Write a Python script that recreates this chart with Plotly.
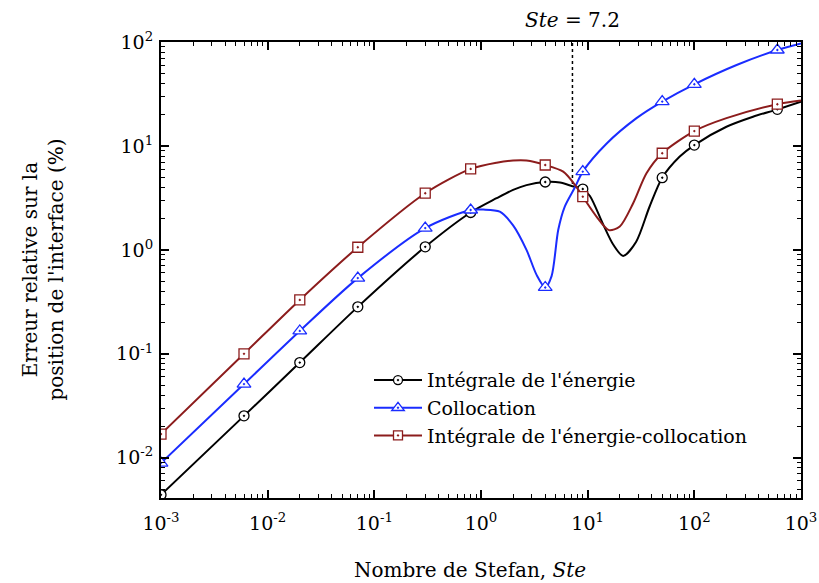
import math
import plotly.graph_objects as go

# Relative error on the interface position versus the Stefan number
ste_energy = [0.001, 0.006, 0.02, 0.07, 0.3, 0.8, 1.4, 2.0, 2.67, 4.0, 5.5, 7.2, 9.0,
              10.5, 14.0, 17.4, 21.5, 28.5, 38.0, 50.0, 73.0, 100.0, 200.0, 355.0, 600.0, 1000.0]
err_energy = [0.0044, 0.0253, 0.0824, 0.283, 1.07, 2.29, 3.14, 3.78, 4.2, 4.5, 4.45, 4.1, 3.85,
              3.3, 1.75, 1.12, 0.875, 1.2, 2.6, 4.95, 7.9, 10.2, 15.3, 19.1, 22.5, 26.7]

ste_colloc = [0.001, 0.006, 0.02, 0.07, 0.3, 0.8, 1.05, 1.5, 2.0, 2.67, 3.32, 4.0, 4.59,
              5.3, 6.1, 7.6, 9.0, 15.0, 28.7, 50.0, 100.0, 249.0, 600.0, 1000.0]
err_colloc = [0.0089, 0.0512, 0.166, 0.535, 1.62, 2.42, 2.44, 2.33, 1.72, 1.0, 0.575, 0.435, 0.56,
              1.56, 2.61, 4.0, 5.66, 10.5, 18.5, 26.7, 39.2, 60.1, 83.8, 97.0]

ste_mixed = [0.001, 0.006, 0.02, 0.07, 0.3, 0.8, 1.4, 2.0, 2.67, 4.0, 5.9, 7.6, 9.0,
             12.1, 15.8, 20.0, 26.7, 35.6, 50.0, 100.0, 200.0, 600.0, 1000.0]
err_mixed = [0.0169, 0.1, 0.33, 1.06, 3.51, 6.01, 6.9, 7.23, 7.23, 6.56, 5.66, 4.22, 3.25,
             2.09, 1.55, 1.68, 2.81, 5.46, 8.51, 13.9, 18.5, 25.2, 27.3]

# Stefan numbers carrying a marker on each curve
ste_marks_energy = [0.001, 0.006, 0.02, 0.07, 0.3, 0.8, 4.0, 9.0, 50.0, 100.0, 600.0]
ste_marks_colloc = [0.001, 0.006, 0.02, 0.07, 0.3, 0.8, 4.0, 9.0, 50.0, 100.0, 600.0]
ste_marks_mixed = [0.001, 0.006, 0.02, 0.07, 0.3, 0.8, 4.0, 9.0, 50.0, 100.0, 600.0]

ste_limit = 7.2
limit_err_span = [4.3, 100.0]

tick_vals = [1e-3, 1e-2, 1e-1, 1e0, 1e1, 1e2, 1e3]
x_tick_text = ["10<sup>-3</sup>", "10<sup>-2</sup>", "10<sup>-1</sup>", "10<sup>0</sup>",
               "10<sup>1</sup>", "10<sup>2</sup>", "10<sup>3</sup>"]
y_tick_vals = [1e-2, 1e-1, 1e0, 1e1, 1e2]
y_tick_text = ["10<sup>-2</sup>", "10<sup>-1</sup>", "10<sup>0</sup>", "10<sup>1</sup>", "10<sup>2</sup>"]

series = [
    ("Intégrale de l'énergie", ste_energy, err_energy, ste_marks_energy, "#000000", "circle-dot", 10),
    ("Collocation", ste_colloc, err_colloc, ste_marks_colloc, "#1a2cff", "triangle-up-dot", 12),
    ("Intégrale de l'énergie-collocation", ste_mixed, err_mixed, ste_marks_mixed, "#8c1c1c", "square-dot", 10),
]

FONT = "DejaVu Serif"

fig = go.Figure()

# vertical marker of the limit Stefan number
fig.add_trace(go.Scatter(x=[ste_limit, ste_limit], y=limit_err_span, mode="lines",
                         line=dict(color="black", width=1.5, dash="dot"),
                         showlegend=False, hoverinfo="skip"))

for name, xs, ys, marks, color, symbol, size in series:
    fig.add_trace(go.Scatter(x=xs, y=ys, mode="lines", line=dict(color=color, width=2, shape="spline", smoothing=0.8),
                             showlegend=False, legendgroup=name))
    mark_y = [ys[xs.index(m)] for m in marks]
    fig.add_trace(go.Scatter(x=marks, y=mark_y, mode="markers",
                             marker=dict(symbol=symbol, size=size, color="white",
                                         line=dict(color=color, width=1.3)),
                             showlegend=False, legendgroup=name))
    fig.add_trace(go.Scatter(x=[None], y=[None], mode="lines+markers", name=name,
                             line=dict(color=color, width=2),
                             marker=dict(symbol=symbol, size=size - 1, color="white",
                                         line=dict(color=color, width=1.3)),
                             legendgroup=name))

axis_common = dict(type="log", showgrid=False, zeroline=False, showline=True, linecolor="black",
                   linewidth=2, mirror="allticks", ticks="inside", ticklen=8, tickwidth=1.5,
                   tickcolor="black", tickfont=dict(family=FONT, size=19, color="black"),
                   automargin=False,
                   minor=dict(ticks="inside", ticklen=4, tickwidth=1, tickcolor="black",
                              dtick="D1", showgrid=False))

fig.update_xaxes(range=[-3, 3], tickvals=tick_vals, ticktext=x_tick_text, ticklabelstandoff=7, **axis_common)
fig.update_yaxes(range=[-2.387, 2], tickvals=y_tick_vals, ticktext=y_tick_text, ticklabelstandoff=2, **axis_common)

fig.update_layout(
    width=819, height=583,
    margin=dict(l=161, r=18, t=42, b=85, autoexpand=False),
    paper_bgcolor="white", plot_bgcolor="white",
    font=dict(family=FONT, color="black"),
    legend=dict(x=0.325, y=0.30, xanchor="left", yanchor="top", bgcolor="rgba(0,0,0,0)",
                font=dict(family=FONT, size=19, color="black"), itemwidth=48,
                tracegroupgap=0),
    annotations=[
        dict(text="<i>Ste</i> = 7.2", x=math.log10(ste_limit), xref="x", y=1.0, yref="paper", yshift=22,
             showarrow=False, font=dict(family=FONT, size=20, color="black"), yanchor="middle"),
        dict(text="Nombre de Stefan, <i>Ste</i>", x=0.483, xref="paper", y=-0.158, yref="paper",
             showarrow=False, font=dict(family=FONT, size=20, color="black"),
             xanchor="center", yanchor="middle"),
        dict(text="Erreur relative sur la<br>position de l'interface (%)", x=-0.185, xref="paper",
             y=0.5, yref="paper", textangle=-90, showarrow=False,
             font=dict(family=FONT, size=20, color="black"), xanchor="center", yanchor="middle"),
    ],
)

fig.write_html("out.html")
